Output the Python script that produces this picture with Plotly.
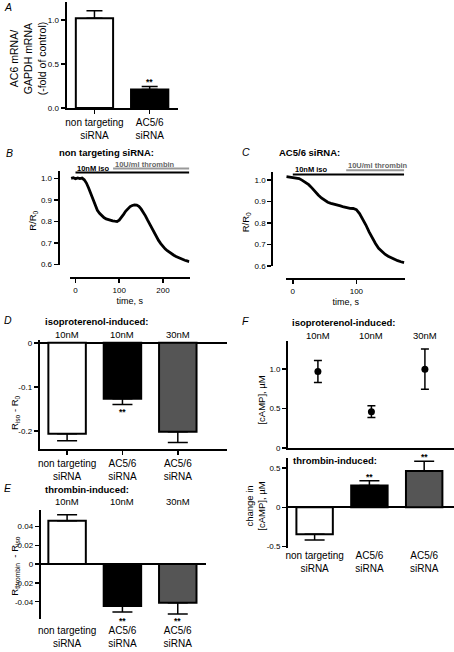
import plotly.graph_objects as go

W, H = 454, 652
FONT = "Liberation Sans, Arial, sans-serif"


def fx(p):
    return p / W


def fy(p):
    return 1 - p / H


# ---------------- data ----------------
A_cats = ["non targeting siRNA", "AC5/6 siRNA"]
A_mean = [1.02, 0.21]
A_sem = [0.085, 0.035]
A_sig = ["", "**"]

B_time = [-10, -5, 0, 5, 10, 15, 20, 25, 30, 35, 40, 45, 50, 55, 60, 65, 70, 75, 80, 85,
          90, 95, 100, 105, 110, 115, 120, 125, 130, 135, 140, 145, 150, 155, 160, 165,
          170, 175, 180, 185, 190, 195, 200, 205, 210, 215, 220, 225, 230, 235, 240, 245,
          250, 255, 260]
B_ratio = [1.000, 1.003, 0.998, 1.002, 0.999, 1.001, 0.993, 0.978, 0.955, 0.928, 0.902,
           0.876, 0.852, 0.838, 0.826, 0.818, 0.812, 0.808, 0.805, 0.803, 0.801, 0.800,
           0.806, 0.818, 0.833, 0.848, 0.861, 0.869, 0.874, 0.877, 0.876, 0.870, 0.858,
           0.843, 0.826, 0.806, 0.786, 0.766, 0.747, 0.729, 0.712, 0.697, 0.684, 0.673,
           0.664, 0.656, 0.649, 0.643, 0.637, 0.632, 0.628, 0.624, 0.620, 0.617, 0.614]

C_time = [-10, -5, 0, 5, 10, 15, 20, 25, 30, 35, 40, 45, 50, 55, 60, 65, 70, 75, 80, 85,
          90, 95, 100, 105, 110, 115, 120, 125, 130, 135, 140, 145, 150, 155, 160, 165,
          170, 175]
C_ratio = [1.015, 1.012, 1.010, 1.008, 1.006, 0.998, 0.990, 0.978, 0.963, 0.945, 0.930,
           0.916, 0.905, 0.896, 0.891, 0.888, 0.884, 0.879, 0.874, 0.870, 0.868, 0.867,
           0.862, 0.843, 0.818, 0.790, 0.758, 0.730, 0.704, 0.682, 0.666, 0.654, 0.645,
           0.637, 0.630, 0.624, 0.619, 0.615]

iso_label = "10nM iso"
thr_label = "10U/ml thrombin"
B_iso_span = [0, 260]
B_thr_span = [86, 260]
C_iso_span = [0, 175]
C_thr_span = [84, 175]
time_ticks = [0, 100, 200]
ratio_ticks = [0.6, 0.7, 0.8, 0.9, 1.0]

cats3 = ["non targeting siRNA", "AC5/6 siRNA", "AC5/6 siRNA"]
conc3 = ["10nM", "10nM", "30nM"]

D_mean = [-0.206, -0.127, -0.202]
D_sem = [0.016, 0.013, 0.024]
D_sig = ["", "**", ""]

E_mean = [0.046, -0.0445, -0.041]
E_sem = [0.0065, 0.0065, 0.012]
E_sig = ["", "**", "**"]

F_iso_mean = [0.97, 0.46, 1.0]
F_iso_sem = [0.14, 0.075, 0.255]

F_thr_mean = [-0.345, 0.278, 0.464]
F_thr_sem = [0.072, 0.06, 0.125]
F_thr_sig = ["", "**", "**"]

bar_colors = ["white", "black", "#555555"]


def catlab(c):
    parts = c.rsplit(" ", 1)
    return parts[0] + "<br>" + parts[1]


# ---------------- figure ----------------
fig = go.Figure()

LINE = dict(showline=True, linecolor="black", linewidth=2, showgrid=False, zeroline=False,
            ticks="outside", ticklen=4, tickwidth=1.5, tickcolor="black",
            tickfont=dict(family=FONT, size=8, color="black"))
CATFONT = dict(family=FONT, size=10, color="black")


def bar_trace(xa, ya, means, sems, colors, width, capw):
    plus = [s if m >= 0 else 0 for m, s in zip(means, sems)]
    minus = [s if m < 0 else 0 for m, s in zip(means, sems)]
    return go.Bar(x=list(range(len(means))), y=means, xaxis=xa, yaxis=ya, width=width,
                  marker=dict(color=colors, line=dict(color="black", width=2)),
                  error_y=dict(type="data", symmetric=False, array=plus, arrayminus=minus,
                               color="black", thickness=1.5, width=capw),
                  showlegend=False, hoverinfo="skip")


fig.add_trace(bar_trace("x", "y", A_mean, A_sem, bar_colors[:2], 0.675, 8))
fig.add_trace(go.Scatter(x=B_time, y=B_ratio, xaxis="x2", yaxis="y2", mode="lines",
                         line=dict(color="black", width=2.8), showlegend=False))
fig.add_trace(go.Scatter(x=C_time, y=C_ratio, xaxis="x3", yaxis="y3", mode="lines",
                         line=dict(color="black", width=2.8), showlegend=False))
fig.add_trace(bar_trace("x4", "y4", D_mean, D_sem, bar_colors, 0.677, 10))
fig.add_trace(bar_trace("x5", "y5", E_mean, E_sem, bar_colors, 0.677, 10))
fig.add_trace(go.Scatter(x=[0, 1, 2], y=F_iso_mean, xaxis="x6", yaxis="y6", mode="markers",
                         marker=dict(color="black", size=7),
                         error_y=dict(type="data", array=F_iso_sem, color="black",
                                      thickness=1.5, width=4),
                         showlegend=False))
fig.add_trace(bar_trace("x7", "y7", F_thr_mean, F_thr_sem, bar_colors, 0.665, 10))

layout = dict(
    width=W, height=H, autosize=False, margin=dict(l=0, r=0, t=0, b=0),
    paper_bgcolor="white", plot_bgcolor="white", bargap=0,
    font=dict(family=FONT, size=9, color="black"),
    # A
    xaxis=dict(LINE, domain=[fx(64), fx(176)], range=[-0.505, 1.51], anchor="y",
               tickvals=[0, 1], ticktext=[catlab(c) for c in A_cats], tickfont=CATFONT),
    yaxis=dict(LINE, domain=[fy(108), fy(1.5)], range=[0, 1.2], anchor="x",
               tickvals=[0, 0.5, 1.0], ticktext=["0.0", "0.5", "1.0"]),
    # B
    xaxis2=dict(LINE, domain=[fx(67), fx(188)], range=[-13.6, 261.4], anchor="free",
                position=fy(280), tickvals=time_ticks,
                title=dict(text="time, s", font=dict(family=FONT, size=9), standoff=3)),
    yaxis2=dict(LINE, domain=[fy(266), fy(172)], range=[0.6, 1.032], anchor="free",
                position=fx(56), tickvals=ratio_ticks, tickformat=".1f"),
    # C
    xaxis3=dict(LINE, domain=[fx(285), fx(405)], range=[-10.5, 177], anchor="free",
                position=fy(280.7), tickvals=time_ticks,
                title=dict(text="time, s", font=dict(family=FONT, size=9), standoff=3)),
    yaxis3=dict(LINE, domain=[fy(267.3), fy(173)], range=[0.6, 1.035], anchor="free",
                position=fx(271), tickvals=ratio_ticks, tickformat=".1f"),
    # D
    xaxis4=dict(LINE, domain=[fx(37), fx(225)], range=[-0.494, 2.88], anchor="y4",
                tickvals=[0, 1, 2], ticktext=[catlab(c) for c in cats3], tickfont=CATFONT),
    yaxis4=dict(LINE, domain=[fy(452), fy(341.7)], range=[-0.2405, 0.0074], anchor="x4",
                tickvals=[0, -0.1, -0.2], ticktext=["0", "-0.1", "-0.2"],
                zeroline=True, zerolinecolor="black", zerolinewidth=2),
    # E
    xaxis5=dict(LINE, domain=[fx(37), fx(204)], range=[-0.494, 2.504], anchor="free",
                position=fy(628), showline=False, ticks="",
                tickvals=[0, 1, 2], ticktext=[catlab(c) for c in cats3], tickfont=CATFONT),
    yaxis5=dict(LINE, domain=[fy(624), fy(513.3)], range=[-0.0586, 0.0579], anchor="free",
                position=fx(37),
                tickvals=[0.04, 0.02, 0, -0.02, -0.04],
                ticktext=["0.04", "0.02", "0", "-0.02", "-0.04"],
                zeroline=True, zerolinecolor="black", zerolinewidth=2),
    # F upper
    xaxis6=dict(LINE, domain=[fx(287), fx(453.7)], range=[-0.557, 2.538], anchor="y6",
                ticks="", showticklabels=False),
    yaxis6=dict(LINE, domain=[fy(451), fy(343.3)], range=[0, 1.356], anchor="x6",
                tickvals=[0, 0.5, 1.0], ticktext=["0", "0.5", "1.0"]),
    # F lower
    xaxis7=dict(LINE, domain=[fx(287), fx(453.7)], range=[-0.484, 2.539], anchor="y7",
                showline=False, ticks="",
                tickvals=[0, 1, 2], ticktext=[catlab(c) for c in cats3], tickfont=CATFONT),
    yaxis7=dict(LINE, domain=[fy(551.7), fy(461.7)], range=[-0.515, 0.624], anchor="x7",
                tickvals=[0.5, 0, -0.5], ticktext=["0.5", "0", "-0.5"],
                zeroline=True, zerolinecolor="black", zerolinewidth=2),
)
fig.update_layout(**layout)

ann = []


def txt(text, x, y, size=9, xanchor="center", yanchor="middle", xref="paper", yref="paper",
        angle=0, color="black", yshift=0):
    ann.append(dict(text=text, x=x, y=y, xref=xref, yref=yref, xanchor=xanchor,
                    yanchor=yanchor, showarrow=False, textangle=angle, yshift=yshift,
                    font=dict(family=FONT, size=size, color=color)))


# panel letters
for lab, x, y in [("A", 5, 6), ("B", 7, 153), ("C", 245, 152), ("D", 5, 322),
                  ("E", 5, 492), ("F", 244, 323)]:
    txt("<i>" + lab + "</i>", fx(x), fy(y), size=10.5)

# panel titles
txt("<b>non targeting siRNA:</b>", fx(54), fy(152.5), size=9.5, xanchor="left")
txt("<b>AC5/6 siRNA:</b>", fx(276), fy(152.5), size=9.5, xanchor="left")
txt("<b>isoproterenol-induced:</b>", fx(40), fy(323.5), size=9.5, xanchor="left")
txt("<b>thrombin-induced:</b>", fx(40), fy(493), size=9.5, xanchor="left")
txt("<b>isoproterenol-induced:</b>", fx(289), fy(324.5), size=9.5, xanchor="left")
txt("<b>thrombin-induced:</b>", fx(290), fy(463.5), size=9.5, xanchor="left")

# concentration labels
for i, c in enumerate(conc3):
    txt(c, i, fy(336.7), size=9.5, xref="x4")
    txt(c, i, fy(505), size=9.5, xref="x5")
    txt(c, i, fy(337.7), size=9.5, xref="x6")

# y-axis titles
txt("AC6 mRNA/<br>GAPDH mRNA<br>(-fold of control)", fx(25), fy(58), size=10.5, angle=-90)
txt("R/R<sub>0</sub>", fx(30), fy(222), size=9.5, angle=-90)
txt("R/R<sub>0</sub>", fx(245), fy(223), size=9.5, angle=-90)
txt("R<sub>iso</sub> - R<sub>0</sub>", fx(12), fy(415), size=9.5, angle=-90)
txt("R<sub>thrombin</sub>  - R<sub>iso</sub>", fx(12), fy(570), size=9.5, angle=-90)
txt("[cAMP], µM", fx(260), fy(403), size=9.5, angle=-90)
txt("change in<br>[cAMP], µM", fx(254), fy(510), size=9.5, angle=-90)

# significance markers
for i, s in enumerate(A_sig):
    if s:
        txt("<b>" + s + "</b>", i, A_mean[i] + A_sem[i], size=8.5, xref="x", yref="y",
            yanchor="bottom", yshift=-3)
for i, s in enumerate(D_sig):
    if s:
        txt("<b>" + s + "</b>", i, D_mean[i] - D_sem[i], size=8.5, xref="x4", yref="y4",
            yanchor="top", yshift=0)
for i, s in enumerate(E_sig):
    if s:
        txt("<b>" + s + "</b>", i, min(E_mean[1] - E_sem[1], E_mean[2] - E_sem[2]),
            size=8.5, xref="x5", yref="y5", yanchor="top", yshift=0)
for i, s in enumerate(F_thr_sig):
    if s:
        txt("<b>" + s + "</b>", i, F_thr_mean[i] + F_thr_sem[i], size=8.5, xref="x7",
            yref="y7", yanchor="bottom", yshift=-3)


# treatment bars for B and C
def ydom(p, top, bot):
    return (bot - p) / (bot - top)


shapes = []
for xa, ya, span, ypx, col, top, bot in [
        ("x2", "y2 domain", B_iso_span, 173, "black", 172, 266),
        ("x2", "y2 domain", B_thr_span, 169, "#999999", 172, 266),
        ("x3", "y3 domain", C_iso_span, 175, "black", 173, 267.3),
        ("x3", "y3 domain", C_thr_span, 170.7, "#999999", 173, 267.3)]:
    yy = ydom(ypx, top, bot)
    shapes.append(dict(type="line", xref=xa, yref=ya, x0=span[0], x1=span[1], y0=yy, y1=yy,
                       line=dict(color=col, width=2)))

txt("<b>" + iso_label + "</b>", B_iso_span[0], fy(169), size=7.5, xref="x2", xanchor="left")
txt("<b>" + thr_label + "</b>", B_thr_span[0], fy(165), size=7.5, xref="x2", xanchor="left",
    color="#666666")
txt("<b>" + iso_label + "</b>", C_iso_span[0], fy(170.5), size=7.5, xref="x3", xanchor="left")
txt("<b>" + thr_label + "</b>", C_thr_span[0], fy(166), size=7.5, xref="x3", xanchor="left",
    color="#666666")

fig.update_layout(annotations=ann, shapes=shapes, hovermode=False)

fig.write_html("out.html", config=dict(displayModeBar=False, staticPlot=True),
               post_script="document.body.style.margin='0';")
